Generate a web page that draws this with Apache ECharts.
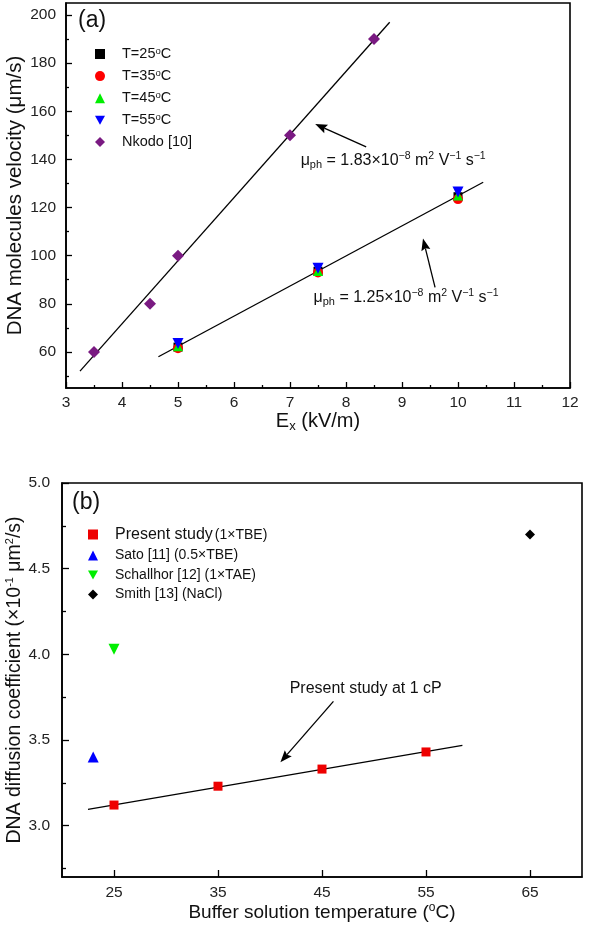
<!DOCTYPE html>
<html>
<head>
<meta charset="utf-8">
<script src="https://cdn.jsdelivr.net/npm/echarts@6/dist/echarts.min.js"></script>
<style>
  html, body { margin: 0; padding: 0; background: #fff; }
  #chart { width: 600px; height: 931px; }
</style>
</head>
<body>
<div id="chart"></div>
<script>
// ---------------- Panel (a) data ----------------
const aFieldX = [5, 7.5, 10];                 // E_x (kV/m)
const aT25 = [62.0, 93.5, 124.5];
const aT35 = [61.5, 93.0, 123.5];
const aT45 = [62.3, 93.6, 125.0];
const aT55 = [63.5, 94.8, 126.5];
const nkodoX = [3.5, 4.5, 5, 7, 8.5];
const nkodoY = [60, 80, 100, 150, 190];
const fitNkodoX = [3.25, 8.78];
const fitNkodoY = [52, 197];
const fitPresentAX = [4.65, 10.45];
const fitPresentAY = [58, 130.5];
const aYMajor = [60, 80, 100, 120, 140, 160, 180, 200];
const aYMinor = [50, 70, 90, 110, 130, 150, 170, 190];
const aLegendNames = ['T=25°C', 'T=35°C', 'T=45°C', 'T=55°C', 'Nkodo [10]'];
// annotation arrows (tail -> tip) in data units
const arrow1 = [[8.36, 145.2], [7.45, 154.7]];
const arrow2 = [[9.59, 86.8], [9.375, 107.1]];
const label1Pos = [7.19, 139.4];
const label2Pos = [7.42, 82.7];

// ---------------- Panel (b) data ----------------
const presentX = [25, 35, 45, 55];            // buffer temperature (°C)
const presentY = [3.12, 3.23, 3.33, 3.43];
const satoX = [23];
const satoY = [3.40];
const schallhorX = [25];
const schallhorY = [4.03];
const smithX = [65];
const smithY = [4.70];
const fitBX = [22.5, 58.5];
const fitBY = [3.095, 3.468];
const bXTicks = [25, 35, 45, 55, 65];
const bYMajor = [3.0, 3.5, 4.0, 4.5, 5.0];
const bYMinor = [2.75, 3.25, 3.75, 4.25, 4.75];
const bLegendNames = ['Present study', 'Sato [11] (0.5×TBE)', 'Schallhor [12] (1×TAE)', 'Smith [13] (NaCl)'];
const arrow3 = [[46.1, 3.725], [41.0, 3.37]];
const label3Pos = [49.2, 3.80];

const FONT = '"Liberation Sans", Arial, sans-serif';
const DOWN_TRI = 'path://M0,0L10,0L5,9Z';
const zip = (xs, ys) => xs.map((x, i) => [x, ys[i]]);

const chart = echarts.init(document.getElementById('chart'), null, { renderer: 'canvas' });

const axisLineStyle = { color: '#000', width: 1.6 };
const labelStyle = { color: '#222', fontSize: 15.5, fontFamily: FONT };

function scatter(name, xi, yi, xs, ys, symbol, size, color) {
  return {
    name, type: 'scatter', xAxisIndex: xi, yAxisIndex: yi,
    data: zip(xs, ys), symbol, symbolSize: size,
    itemStyle: { color, opacity: 1 }, silent: true, animation: false
  };
}
function fitLine(xi, yi, xs, ys) {
  return {
    type: 'line', xAxisIndex: xi, yAxisIndex: yi, data: zip(xs, ys),
    symbol: 'none', lineStyle: { color: '#000', width: 1.3 }, silent: true, animation: false,
    z: 1
  };
}

const gridBase = { show: true, borderColor: '#000', borderWidth: 1.6, backgroundColor: 'transparent', containLabel: false, outerBoundsMode: 'none' };

const option = {
  backgroundColor: '#fff',
  animation: false,
  title: [
    { text: '(a)', left: 73, top: 4, textStyle: { fontSize: 23, fontWeight: 'normal', color: '#111', fontFamily: FONT } },
    { text: '(b)', left: 67, top: 486, textStyle: { fontSize: 23, fontWeight: 'normal', color: '#111', fontFamily: FONT } }
  ],
  grid: [
    Object.assign({ left: 66, top: 3, width: 504, height: 385 }, gridBase),
    Object.assign({ left: 62, top: 483, width: 520, height: 394 }, gridBase)
  ],
  legend: [
    {
      data: [
        { name: aLegendNames[0], icon: 'rect' },
        { name: aLegendNames[1], icon: 'circle' },
        { name: aLegendNames[2], icon: 'triangle' },
        { name: aLegendNames[3], icon: DOWN_TRI },
        { name: aLegendNames[4], icon: 'diamond' }
      ],
      orient: 'vertical', left: 90, top: 41, itemWidth: 10, itemHeight: 10, itemGap: 6.6,
      selectedMode: false,
      formatter: n => n.startsWith('T=') ? `{n|${n.slice(0, -2)}}{s|o}{n|C}` : `{n|${n}}`,
      textStyle: {
        fontFamily: FONT, color: '#111', padding: [0, 0, 0, 12],
        rich: {
          n: { fontSize: 14.5, fontFamily: FONT, color: '#111', lineHeight: 16 },
          s: { fontSize: 9.5, fontFamily: FONT, color: '#111', lineHeight: 9, verticalAlign: 'top' }
        }
      }
    },
    {
      data: [
        { name: bLegendNames[0], icon: 'rect' },
        { name: bLegendNames[1], icon: 'triangle' },
        { name: bLegendNames[2], icon: DOWN_TRI },
        { name: bLegendNames[3], icon: 'diamond' }
      ],
      orient: 'vertical', left: 83, top: 518, itemWidth: 10, itemHeight: 10, itemGap: 5.5,
      selectedMode: false,
      formatter: n => n === 'Present study' ? `{big|Present study}{sm|(1×TBE)}` : `{n|${n}}`,
      textStyle: {
        fontFamily: FONT, color: '#111', padding: [0, 0, 0, 12],
        rich: {
          n: { fontSize: 14, fontFamily: FONT, color: '#111', lineHeight: 15 },
          big: { fontSize: 16, fontFamily: FONT, color: '#111', lineHeight: 15, verticalAlign: 'top' },
          sm: { fontSize: 14, fontFamily: FONT, color: '#111', lineHeight: 13, verticalAlign: 'bottom', padding: [5, 0, 0, 2] }
        }
      }
    }
  ],
  xAxis: [
    {
      gridIndex: 0, type: 'value', min: 3, max: 12, interval: 1,
      axisLine: { show: true, lineStyle: axisLineStyle },
      axisTick: { show: true, inside: true, length: 6, lineStyle: { color: '#000', width: 1.3 } },
      minorTick: { show: true, splitNumber: 2, length: 3, lineStyle: { color: '#000', width: 1.3 } },
      splitLine: { show: false }, minorSplitLine: { show: false },
      axisLabel: Object.assign({ margin: 7 }, labelStyle),
      name: '{t|E}{sub|x}{t| (kV/m)}', nameLocation: 'middle', nameGap: 21,
      nameTextStyle: {
        rich: {
          t: { fontSize: 20, fontFamily: FONT, color: '#111', lineHeight: 22 },
          sub: { fontSize: 13, fontFamily: FONT, color: '#111', lineHeight: 12, verticalAlign: 'bottom' }
        }
      }
    },
    {
      gridIndex: 1, type: 'value', min: 20, max: 70,
      axisLine: { show: true, lineStyle: axisLineStyle },
      axisTick: { show: true, inside: true, length: 7, customValues: bXTicks, lineStyle: { color: '#000', width: 1.3 } },
      splitLine: { show: false },
      axisLabel: Object.assign({ margin: 8, customValues: bXTicks }, labelStyle),
      name: '{t|Buffer solution temperature (}{s|o}{t|C)}', nameLocation: 'middle', nameGap: 25,
      nameTextStyle: {
        rich: {
          t: { fontSize: 19, fontFamily: FONT, color: '#111', lineHeight: 22 },
          s: { fontSize: 12, fontFamily: FONT, color: '#111', lineHeight: 11, verticalAlign: 'top' }
        }
      }
    }
  ],
  yAxis: [
    {
      gridIndex: 0, type: 'value', min: 45, max: 205, position: 'left',
      axisLine: { show: true, lineStyle: axisLineStyle },
      axisTick: { show: true, inside: true, length: 6, customValues: aYMajor, lineStyle: { color: '#000', width: 1.3 } },
      splitLine: { show: false },
      axisLabel: Object.assign({ margin: 10, customValues: aYMajor }, labelStyle),
      name: 'DNA molecules velocity (μm/s)', nameLocation: 'middle', nameRotate: 90, nameGap: 40,
      nameMoveOverlap: false,
      nameTextStyle: { fontSize: 20.5, fontFamily: FONT, color: '#111' }
    },
    {
      gridIndex: 0, type: 'value', min: 45, max: 205, position: 'left',
      axisLine: { show: false },
      axisTick: { show: true, inside: true, length: 3, customValues: aYMinor, lineStyle: { color: '#000', width: 1.3 } },
      splitLine: { show: false },
      axisLabel: { show: false }
    },
    {
      gridIndex: 1, type: 'value', min: 2.7, max: 5.0, position: 'left',
      axisLine: { show: true, lineStyle: axisLineStyle },
      axisTick: { show: true, inside: true, length: 7, customValues: bYMajor, lineStyle: { color: '#000', width: 1.3 } },
      splitLine: { show: false },
      axisLabel: Object.assign({ margin: 12, customValues: bYMajor, formatter: v => v.toFixed(1) }, labelStyle),
      name: '{t|DNA diffusion coefficient (×10}{s|-1}{t| μm}{s|2}{t|/s)}', nameLocation: 'middle', nameRotate: 90, nameGap: 36,
      nameMoveOverlap: false,
      nameTextStyle: {
        rich: {
          t: { fontSize: 19.5, fontFamily: FONT, color: '#111', lineHeight: 22 },
          s: { fontSize: 11, fontFamily: FONT, color: '#111', lineHeight: 11, verticalAlign: 'top' }
        }
      }
    },
    {
      gridIndex: 1, type: 'value', min: 2.7, max: 5.0, position: 'left',
      axisLine: { show: false },
      axisTick: { show: true, inside: true, length: 4, customValues: bYMinor, lineStyle: { color: '#000', width: 1.3 } },
      splitLine: { show: false },
      axisLabel: { show: false }
    }
  ],
  series: [
    fitLine(0, 0, fitNkodoX, fitNkodoY),
    fitLine(0, 0, fitPresentAX, fitPresentAY),
    scatter('T=25°C', 0, 0, aFieldX, aT25, 'rect', 9, '#000'),
    scatter('T=35°C', 0, 0, aFieldX, aT35, 'circle', 10, '#ff0000'),
    scatter('T=45°C', 0, 0, aFieldX, aT45, 'triangle', 10, '#00ee00'),
    scatter('T=55°C', 0, 0, aFieldX, aT55, DOWN_TRI, 11, '#0000ff'),
    scatter('Nkodo [10]', 0, 0, nkodoX, nkodoY, 'diamond', 12, '#7a1a82'),
    fitLine(1, 2, fitBX, fitBY),
    scatter('Present study', 1, 2, presentX, presentY, 'rect', 9, '#ee0000'),
    scatter('Sato [11] (0.5×TBE)', 1, 2, satoX, satoY, 'triangle', 11, '#0000ff'),
    scatter('Schallhor [12] (1×TAE)', 1, 2, schallhorX, schallhorY, DOWN_TRI, 11, '#00ee00'),
    scatter('Smith [13] (NaCl)', 1, 2, smithX, smithY, 'diamond', 10, '#000')
  ]
};
chart.setOption(option);

// Annotations positioned through the chart's own coordinate systems
const px = (g, v) => chart.convertToPixel({ gridIndex: g }, v);
function arrowGraphics(g, arrow) {
  const a = px(g, arrow[0]);
  const b = px(g, arrow[1]);
  const dx = b[0] - a[0], dy = b[1] - a[1];
  const len = Math.hypot(dx, dy);
  const ux = dx / len, uy = dy / len;
  const headL = 12, headW = 4.6;
  const bx = b[0] - ux * headL, by = b[1] - uy * headL;
  return [
    { type: 'line', shape: { x1: a[0], y1: a[1], x2: bx + ux * 2, y2: by + uy * 2 }, style: { stroke: '#000', lineWidth: 1.3 }, silent: true },
    { type: 'polygon', shape: { points: [[b[0], b[1]], [bx - uy * headW, by + ux * headW], [bx + ux * 2, by + uy * 2], [bx + uy * headW, by - ux * headW]] }, style: { fill: '#000' }, silent: true }
  ];
}
const p1 = px(0, label1Pos);
const p2 = px(0, label2Pos);
const p3 = px(1, label3Pos);
const muRich = {
  t: { fontSize: 16, fontFamily: FONT, fill: '#111', lineHeight: 20 },
  sub: { fontSize: 11, fontFamily: FONT, fill: '#111', lineHeight: 10, verticalAlign: 'bottom' },
  sup: { fontSize: 10.5, fontFamily: FONT, fill: '#111', lineHeight: 10, verticalAlign: 'top' }
};
const muText = k => `{t|μ}{sub|ph}{t| = ${k}×10}{sup|−8}{t| m}{sup|2}{t| V}{sup|−1}{t| s}{sup|−1}`;
chart.setOption({
  graphic: [
    ...arrowGraphics(0, arrow1),
    ...arrowGraphics(0, arrow2),
    ...arrowGraphics(1, arrow3),
    { type: 'text', x: p1[0], y: p1[1], style: { text: muText('1.83'), rich: muRich, verticalAlign: 'middle', align: 'left' }, silent: true },
    { type: 'text', x: p2[0], y: p2[1], style: { text: muText('1.25'), rich: muRich, verticalAlign: 'middle', align: 'left' }, silent: true },
    { type: 'text', x: p3[0], y: p3[1], style: { text: 'Present study at 1 cP', font: '16px ' + FONT, fill: '#111', verticalAlign: 'middle', align: 'center' }, silent: true }
  ]
});
</script>
</body>
</html>
